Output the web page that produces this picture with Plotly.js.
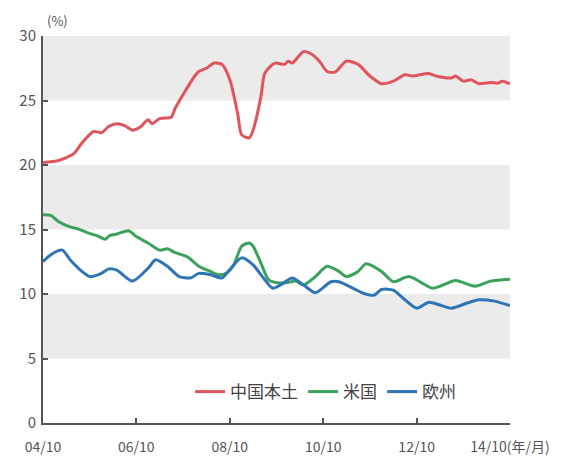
<!DOCTYPE html>
<html>
<head>
<meta charset="utf-8">
<script src="https://cdn.plot.ly/plotly-3.0.1.min.js"></script>
<style>html,body{margin:0;padding:0;background:#fff;}#chart{width:579px;height:457px;}</style>
</head>
<body>
<div id="chart"></div>
<script>
// ---- data ----
const seriesNames = ["中国本土", "米国", "欧州"];

const chinaDates = ["2004-10","2005-02","2005-06","2005-08","2005-11","2006-01","2006-03","2006-05","2006-07","2006-09","2006-11","2007-01","2007-02","2007-04","2007-07","2007-08","2007-10","2008-01","2008-02","2008-04","2008-06","2008-08","2008-10","2008-12","2009-01","2009-03","2009-04","2009-06","2009-07","2009-09","2009-10","2009-12","2010-01","2010-02","2010-05","2010-07","2010-09","2010-11","2011-01","2011-04","2011-07","2011-10","2012-01","2012-04","2012-07","2012-09","2013-01","2013-03","2013-07","2013-08","2013-10","2013-12","2014-02","2014-05","2014-07","2014-08","2014-10"];
const chinaValues = [20.2,20.35,20.9,21.7,22.6,22.5,23.0,23.2,23.05,22.7,22.95,23.5,23.2,23.6,23.7,24.4,25.45,26.9,27.25,27.5,27.9,27.8,26.6,24.0,22.35,22.1,22.7,25.3,27.1,27.8,27.9,27.8,28.05,27.9,28.8,28.6,28.05,27.25,27.2,28.05,27.8,26.9,26.3,26.5,27.0,26.9,27.1,26.9,26.75,26.9,26.5,26.6,26.3,26.4,26.35,26.5,26.3];

const usDates = ["2004-10","2004-12","2005-02","2005-05","2005-07","2005-10","2005-12","2006-02","2006-03","2006-05","2006-08","2006-10","2007-01","2007-04","2007-06","2007-08","2007-11","2008-02","2008-05","2008-07","2008-09","2008-11","2009-01","2009-03","2009-04","2009-06","2009-08","2009-11","2010-01","2010-03","2010-05","2010-08","2010-11","2011-02","2011-04","2011-07","2011-09","2012-01","2012-04","2012-08","2013-02","2013-04","2013-08","2014-01","2014-05","2014-10"];
const usValues = [16.15,16.1,15.6,15.2,15.05,14.7,14.5,14.25,14.5,14.65,14.9,14.45,13.95,13.4,13.5,13.2,12.9,12.15,11.75,11.5,11.6,12.25,13.7,13.95,13.7,12.4,11.1,10.85,10.9,11.0,10.7,11.35,12.15,11.75,11.35,11.75,12.35,11.75,10.95,11.35,10.45,10.6,11.05,10.6,11.0,11.15];

const euDates = ["2004-10","2004-12","2005-03","2005-05","2005-08","2005-10","2006-01","2006-03","2006-05","2006-09","2007-01","2007-03","2007-06","2007-09","2007-12","2008-02","2008-05","2008-08","2008-10","2009-01","2009-04","2009-07","2009-09","2009-11","2010-02","2010-05","2010-08","2010-12","2011-02","2011-06","2011-08","2011-11","2012-01","2012-04","2012-07","2012-10","2013-01","2013-04","2013-07","2013-11","2014-02","2014-06","2014-10"];
const euValues = [12.5,13.05,13.4,12.65,11.75,11.35,11.6,11.95,11.85,11.0,12.0,12.65,12.15,11.35,11.25,11.6,11.5,11.25,11.9,12.8,12.25,11.1,10.45,10.7,11.25,10.7,10.1,10.95,10.95,10.4,10.1,9.9,10.35,10.3,9.55,8.9,9.35,9.15,8.9,9.3,9.55,9.45,9.1];

const tickDates = ["2004-10-01","2006-10-01","2008-10-01","2010-10-01","2012-10-01","2014-10-01"];
const tickLabels = ["04/10","06/10","08/10","10/10","12/10","14/10(年/月)"];
const yTicks = [0,5,10,15,20,25,30];
const bandRanges = [[25,30],[15,20],[5,10]];

// ---- chart ----
const colors = ["#e0555c", "#3aa25a", "#2e74b6"];
const font = "'Noto Sans CJK JP', 'Noto Sans', sans-serif";

const traces = [
  {x: chinaDates, y: chinaValues, name: seriesNames[0]},
  {x: usDates, y: usValues, name: seriesNames[1]},
  {x: euDates, y: euValues, name: seriesNames[2]}
].map((t, i) => Object.assign(t, {
  type: "scatter", mode: "lines",
  line: {color: colors[i], width: 3, shape: "spline", smoothing: 0.7},
  hoverinfo: "skip"
}));

const shapes = bandRanges.map(r => ({
  type: "rect", xref: "paper", yref: "y", x0: 0, x1: 1, y0: r[0], y1: r[1],
  fillcolor: "#ebebeb", line: {width: 0}, layer: "below"
}));

const layout = {
  width: 579, height: 457,
  margin: {l: 43, r: 69, t: 36, b: 34},
  paper_bgcolor: "#ffffff", plot_bgcolor: "#ffffff",
  font: {family: font, color: "#555", size: 14},
  showlegend: true,
  legend: {
    orientation: "h", x: 0.315, xanchor: "left", y: 0.08, yanchor: "middle",
    bgcolor: "rgba(0,0,0,0)", font: {size: 17, color: "#444"},
    itemclick: false, itemdoubleclick: false
  },
  xaxis: {
    type: "date", range: ["2004-10-01", "2014-10-01"],
    tickvals: tickDates, ticktext: tickLabels,
    showgrid: false, zeroline: false,
    showline: true, linecolor: "#555", linewidth: 2,
    ticks: "inside", ticklen: 5, tickwidth: 2, tickcolor: "#555",
    ticklabelstandoff: 10,
    tickfont: {size: 14, color: "#555"}, fixedrange: true
  },
  yaxis: {
    range: [0, 30], tickvals: yTicks,
    showgrid: false, zeroline: false,
    showline: true, linecolor: "#555", linewidth: 2,
    ticks: "inside", ticklen: 5, tickwidth: 2, tickcolor: "#555",
    ticklabelstandoff: 2,
    tickfont: {size: 15, color: "#555"}, fixedrange: true
  },
  shapes: shapes,
  annotations: [{
    text: "(%)", xref: "paper", yref: "paper", x: 0.03, y: 1.04,
    xanchor: "center", yanchor: "middle", showarrow: false,
    font: {size: 13, color: "#555"}
  }]
};

Plotly.newPlot("chart", traces, layout, {staticPlot: true, displayModeBar: false});
</script>
</body>
</html>
